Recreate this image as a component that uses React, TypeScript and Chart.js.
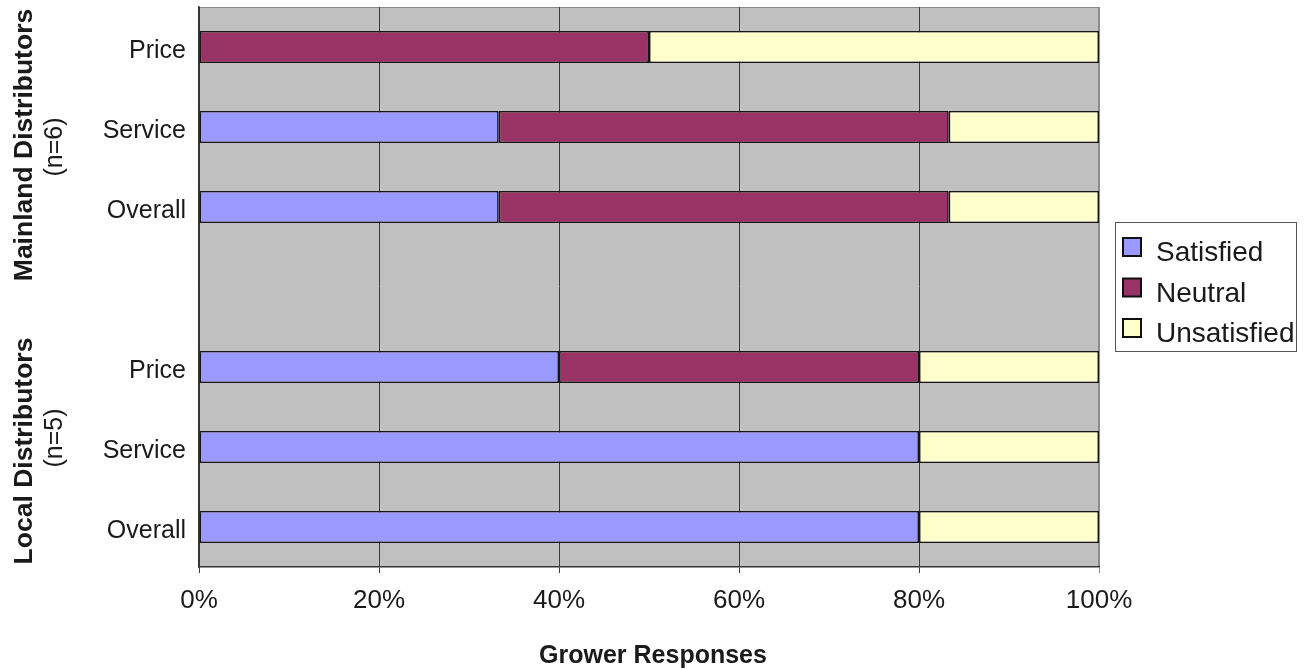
import React, { useEffect, useRef } from "react";
import { Chart, registerables } from "chart.js";

Chart.register(...registerables);

// Survey categories, top to bottom (blank slot separates the two distributor groups)
const categories = ["Price", "Service", "Overall", "", "Price", "Service", "Overall"];

// Share of grower responses, in percent
const satisfied = [0, 33.3, 33.3, null, 40, 80, 80];
const neutral = [50, 50, 50, null, 40, 0, 0];
const unsatisfied = [50, 16.7, 16.7, null, 20, 20, 20];

const seriesNames = ["Satisfied", "Neutral", "Unsatisfied"];
const seriesColors = ["#9999FF", "#993366", "#FFFFCC"];

const xTickValues = [0, 20, 40, 60, 80, 100];
const groupTitles = ["Mainland Distributors", "Local Distributors"];
const groupSizes = ["(n=6)", "(n=5)"];
const axisTitle = "Grower Responses";

const FONT = "'Liberation Sans', Arial, Helvetica, sans-serif";
const TEXT = "#1a1a1a";

// zero-width segments are left out so they draw no border sliver
const clean = (arr: (number | null)[]) => arr.map((v) => (v === 0 ? null : v));

const decorPlugin = {
  id: "decor",
  beforeDraw(chart: any) {
    const { ctx, chartArea: a } = chart;
    ctx.save();
    ctx.fillStyle = "#C0C0C0";
    ctx.fillRect(a.left, a.top, a.right - a.left, a.bottom - a.top);
    ctx.strokeStyle = "#8a8a8a";
    ctx.lineWidth = 1;
    ctx.strokeRect(a.left + 0.5, a.top + 0.5, a.right - a.left - 1, a.bottom - a.top - 1);
    ctx.restore();
  },
  afterDraw(chart: any) {
    const { ctx, chartArea: a } = chart;
    const y = chart.scales.y;
    ctx.save();
    ctx.fillStyle = TEXT;

    // rotated group titles on the left
    const groups = [
      { title: groupTitles[0], size: groupSizes[0], cTitle: y.getPixelForValue(1) + 18, cSize: y.getPixelForValue(1) + 20 },
      { title: groupTitles[1], size: groupSizes[1], cTitle: y.getPixelForValue(5) + 4, cSize: y.getPixelForValue(5) - 9 },
    ];
    ctx.textAlign = "center";
    ctx.textBaseline = "alphabetic";
    for (const g of groups) {
      ctx.save();
      ctx.translate(32, g.cTitle);
      ctx.rotate(-Math.PI / 2);
      ctx.font = `bold 26.5px ${FONT}`;
      ctx.fillText(g.title, 0, 0);
      ctx.restore();
      ctx.save();
      ctx.translate(62, g.cSize);
      ctx.rotate(-Math.PI / 2);
      ctx.font = `25px ${FONT}`;
      ctx.fillText(g.size, 0, 0);
      ctx.restore();
    }

    // x axis title
    ctx.font = `bold 25px ${FONT}`;
    ctx.fillText(axisTitle, (a.left + a.right) / 2 + 4, 663);

    // legend box on the right
    const lx = 1115, ly = 222, lw = 182, lh = 130;
    ctx.fillStyle = "#ffffff";
    ctx.fillRect(lx, ly, lw, lh);
    ctx.strokeStyle = "#555";
    ctx.lineWidth = 1;
    ctx.strokeRect(lx + 0.5, ly + 0.5, lw - 1, lh - 1);
    ctx.textAlign = "left";
    ctx.font = `28px ${FONT}`;
    seriesNames.forEach((name, i) => {
      const base = 261 + i * 40.5;
      ctx.fillStyle = seriesColors[i];
      ctx.fillRect(1123, base - 23, 18, 18);
      ctx.strokeStyle = "#111";
      ctx.lineWidth = 2;
      ctx.strokeRect(1123, base - 23, 18, 18);
      ctx.fillStyle = TEXT;
      ctx.fillText(name, 1156, base);
    });
    ctx.restore();
  },
};

export default function App() {
  const canvasRef = useRef<HTMLCanvasElement | null>(null);

  useEffect(() => {
    const canvas = canvasRef.current;
    if (!canvas) return;
    const series = [satisfied, neutral, unsatisfied];
    const chart = new Chart(canvas, {
      type: "bar",
      data: {
        labels: categories,
        datasets: series.map((d, i) => ({
          label: seriesNames[i],
          data: clean(d),
          backgroundColor: seriesColors[i],
          borderColor: "#161616",
          borderWidth: 1.6,
          borderSkipped: false,
          categoryPercentage: 1,
          barPercentage: 0.4,
        })),
      },
      options: {
        indexAxis: "y",
        animation: false,
        responsive: true,
        maintainAspectRatio: false,
        devicePixelRatio: 1,
        layout: { padding: { left: 0, top: 7, right: 206, bottom: 0 } },
        plugins: {
          legend: { display: false },
          tooltip: { enabled: false },
        },
        scales: {
          x: {
            type: "linear",
            stacked: true,
            min: 0,
            max: 100,
            afterFit: (scale: any) => {
              scale.height = 103;
              scale.paddingLeft = 0;
              scale.paddingRight = 0;
            },
            afterBuildTicks: (scale: any) => {
              scale.ticks = xTickValues.map((v) => ({ value: v }));
            },
            ticks: {
              callback: (v: any) => `${v}%`,
              color: TEXT,
              font: { family: FONT, size: 26 },
              padding: 12,
              maxRotation: 0,
            },
            grid: {
              color: (c: any) => (c.index === xTickValues.length - 1 ? "#8a8a8a" : "#3c3c3c"),
              lineWidth: 1,
              tickLength: 6,
              drawTicks: true,
            },
            border: { display: true, color: "#333", width: 1.5 },
          },
          y: {
            type: "category",
            stacked: true,
            afterFit: (scale: any) => {
              scale.width = 199;
              scale.paddingTop = 0;
              scale.paddingBottom = 0;
            },
            ticks: {
              color: TEXT,
              font: { family: FONT, size: 25 },
              padding: 13,
              labelOffset: 4,
              autoSkip: false,
            },
            grid: { display: false, drawTicks: false },
            border: { display: true, color: "#333", width: 1.5 },
          },
        },
      },
      plugins: [decorPlugin],
    } as any);
    return () => chart.destroy();
  }, []);

  return (
    <div style={{ position: "fixed", left: 0, top: 0, width: 1305, height: 670, background: "#fff" }}>
      <canvas ref={canvasRef} />
    </div>
  );
}
